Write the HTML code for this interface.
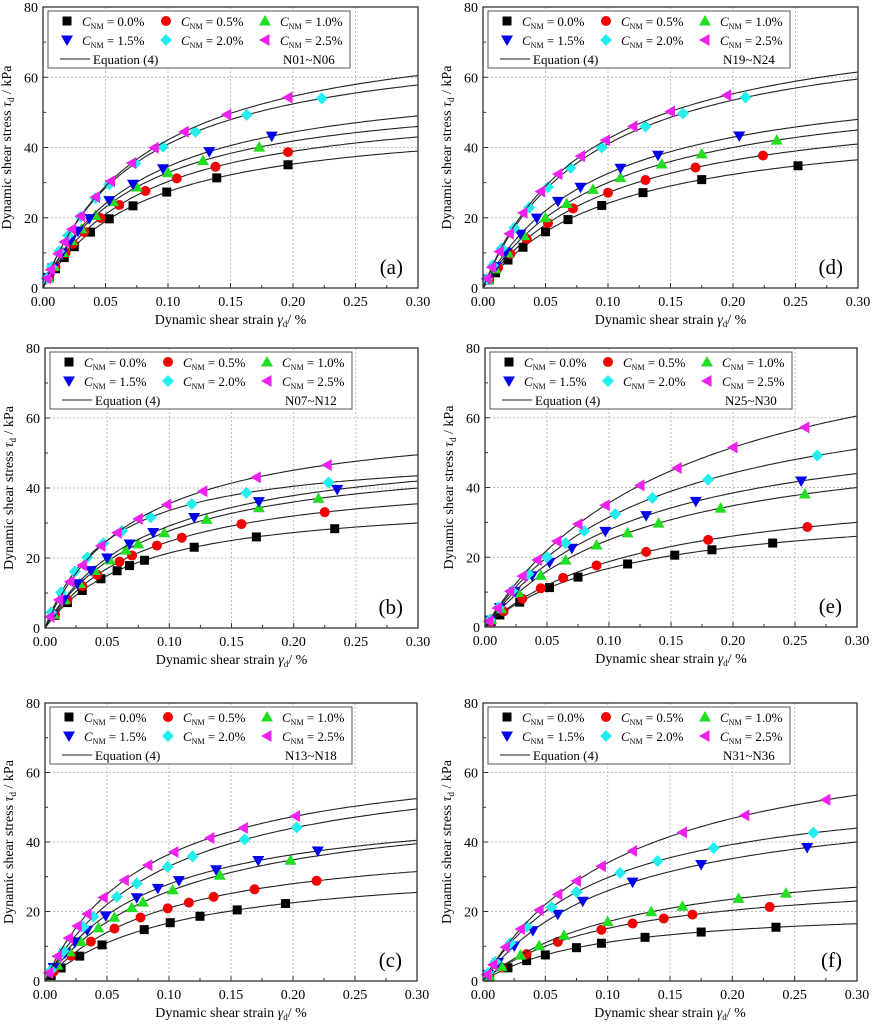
<!DOCTYPE html><html><head><meta charset="utf-8"><style>body{margin:0;background:#fff}svg{display:block;font-family:"Liberation Serif",serif}</style></head><body>
<svg id="s" width="872" height="1024" xmlns="http://www.w3.org/2000/svg"></svg>
<script>
const P=[
{x0:43,x1:418,y0:288,y1:7,lab:"(a)",tag:"N01~N06",c30:[39,43,46,49,57.8,60.5],c05:[19,21,23,24,28.5,29],g:[[.005,.01,.017,.025,.038,.053,.072,.099,.139,.196],[.005,.01,.018,.024,.033,.046,.061,.082,.107,.138,.196],[.004,.009,.016,.023,.031,.042,.056,.075,.1,.128,.173],[.004,.008,.015,.022,.028,.037,.053,.072,.096,.133,.183],[.003,.007,.013,.02,.03,.042,.053,.074,.096,.122,.163,.223],[.003,.006,.012,.017,.023,.03,.042,.054,.071,.089,.113,.147,.196]]},
{x0:483,x1:858,y0:288,y1:7,lab:"(d)",tag:"N19~N24",c30:[36.5,41,45,48,59.5,61.5],c05:[16,18,20,22,28,29],g:[[.005,.01,.02,.032,.05,.068,.095,.128,.175,.252],[.005,.012,.022,.035,.052,.072,.1,.13,.17,.224],[.004,.01,.02,.033,.05,.067,.088,.11,.143,.175,.235],[.004,.01,.018,.03,.043,.06,.078,.11,.14,.205],[.003,.008,.015,.025,.037,.052,.07,.095,.13,.16,.21],[.003,.007,.013,.021,.032,.046,.06,.078,.098,.12,.15,.195]]},
{x0:45,x1:418,y0:628,y1:348,lab:"(b)",tag:"N07~N12",c30:[30,35.5,40,42,43.5,49.5],c05:[15,17,19,20,25,25],g:[[.008,.018,.03,.045,.058,.068,.08,.12,.17,.233],[.008,.018,.03,.042,.06,.07,.09,.11,.158,.225],[.007,.016,.028,.04,.052,.065,.075,.096,.13,.172,.22],[.006,.015,.026,.037,.05,.068,.087,.12,.172,.235],[.005,.013,.024,.034,.047,.062,.085,.118,.162,.228],[.004,.011,.02,.03,.045,.058,.075,.098,.127,.17,.227]]},
{x0:485,x1:857,y0:627,y1:348,lab:"(e)",tag:"N25~N30",c30:[26,30,40,44,51,60.5],c05:[11,12,16,18,20,22],g:[[.005,.012,.028,.052,.075,.115,.153,.183,.232],[.005,.015,.03,.045,.063,.09,.13,.18,.26],[.005,.013,.027,.045,.065,.09,.115,.14,.19,.258],[.004,.012,.024,.038,.052,.07,.097,.13,.17,.255],[.004,.011,.022,.035,.05,.065,.08,.105,.135,.18,.268],[.003,.01,.02,.03,.042,.058,.075,.097,.125,.155,.2,.258]]},
{x0:45,x1:417,y0:981,y1:703,lab:"(c)",tag:"N13~N18",c30:[25.5,31.5,39.5,40.5,49.5,52.5],c05:[11,14,17,19,22,25],g:[[.005,.013,.028,.046,.08,.101,.125,.155,.194],[.007,.021,.037,.056,.077,.099,.116,.136,.169,.219],[.01,.02,.029,.043,.056,.07,.079,.103,.141,.198],[.007,.016,.024,.034,.049,.074,.091,.108,.138,.172,.22],[.005,.015,.031,.039,.058,.074,.099,.119,.161,.203],[.003,.01,.019,.026,.034,.047,.064,.083,.104,.133,.16,.202]]},
{x0:483,x1:857,y0:981,y1:703,lab:"(f)",tag:"N31~N36",c30:[16.5,23,27,40,44,53.5],c05:[7.5,10,11,17,20,22],g:[[.005,.02,.035,.05,.075,.095,.13,.175,.235],[.005,.015,.035,.06,.095,.12,.145,.168,.23],[.005,.015,.03,.045,.065,.1,.135,.16,.205,.243],[.004,.012,.025,.04,.06,.08,.12,.175,.26],[.004,.01,.022,.035,.055,.075,.11,.14,.185,.265],[.003,.008,.018,.03,.045,.06,.075,.095,.12,.16,.21,.275]]}
];
const col=["#000","#f00000","#22dd22","#0000ee","#22eeee","#ee22ee"];
let h="";
function mk(t,x,y){const c=col[t];
 if(t==0)return `<rect x="${x-4.5}" y="${y-4.5}" width="9" height="9" fill="${c}"/>`;
 if(t==1)return `<circle cx="${x}" cy="${y}" r="5" fill="${c}"/>`;
 if(t==2)return `<polygon points="${x},${y-6} ${x+6},${y+4.5} ${x-6},${y+4.5}" fill="${c}"/>`;
 if(t==3)return `<polygon points="${x},${y+6} ${x+6},${y-4.5} ${x-6},${y-4.5}" fill="${c}"/>`;
 if(t==4)return `<polygon points="${x},${y-6} ${x+6},${y} ${x},${y+6} ${x-6},${y}" fill="${c}"/>`;
 return `<polygon points="${x-6},${y} ${x+4.5},${y-6} ${x+4.5},${y+6}" fill="${c}"/>`;}
for(const p of P){
 const W=p.x1-p.x0,H=p.y0-p.y1,X=g=>p.x0+g/0.3*W,Y=v=>p.y0-v/80*H;
 for(let i=1;i<6;i++)h+=`<line x1="${X(i*.05)}" y1="${p.y1}" x2="${X(i*.05)}" y2="${p.y0}" stroke="#bbb" stroke-dasharray="2,2"/>`;
 for(let i=1;i<4;i++)h+=`<line x1="${p.x0}" y1="${Y(i*20)}" x2="${p.x1}" y2="${Y(i*20)}" stroke="#bbb" stroke-dasharray="2,2"/>`;
 for(let i=0;i<=12;i++){const x=X(i*.025);h+=`<line x1="${x}" y1="${p.y0}" x2="${x}" y2="${p.y0-(i%2?3:5)}" stroke="#333"/>`;}
 for(let i=0;i<=8;i++){const y=Y(i*10);h+=`<line x1="${p.x0}" y1="${y}" x2="${p.x0+(i%2?3:5)}" y2="${y}" stroke="#333"/>`;}
 for(let i=0;i<=6;i++)h+=`<text x="${X(i*.05)}" y="${p.y0+18}" font-size="14" text-anchor="middle">${(i*.05).toFixed(2)}</text>`;
 for(let i=0;i<=4;i++)h+=`<text x="${p.x0-5}" y="${Y(i*20)+5}" font-size="14" text-anchor="end">${i*20}</text>`;
 h+=`<text x="${(p.x0+p.x1)/2}" y="${p.y0+36}" font-size="14" text-anchor="middle">Dynamic shear strain <tspan font-style="italic">γ</tspan><tspan font-size="9" dy="3">d</tspan><tspan dy="-3">/ %</tspan></text>`;
 const cy=(p.y0+p.y1)/2,lx=p.x0-32;
 h+=`<text transform="translate(${lx},${cy}) rotate(-90)" font-size="14" text-anchor="middle">Dynamic shear stress <tspan font-style="italic">τ</tspan><tspan font-size="9" dy="3">d</tspan><tspan dy="-3"> / kPa</tspan></text>`;
 for(let k=0;k<6;k++){const t1=p.c05[k],t2=p.c30[k];const a=(1/t1-1/t2)/(1/.05-1/.3),b=1/t2-a/.3,f=g=>g/(a+b*g);
  let d="";for(let i=0;i<=120;i++){const g=i/120*.3;d+=(i?"L":"M")+X(g).toFixed(1)+","+Y(f(g)).toFixed(1);}
  h+=`<path d="${d}" fill="none" stroke="#222" stroke-width="1.1"/>`;
  const typ=[0,1,2,3,4,5][k];
  for(const g of p.g[typ]){h+=mk(typ,X(g),Y(f(g)));}}
 // legend
 const lx0=p.x0+5,ly0=p.y1+4;
 h+=`<rect x="${lx0}" y="${ly0}" width="302" height="57" fill="#fff" stroke="#555"/>`;
 const lb=["0.0","0.5","1.0","1.5","2.0","2.5"];
 for(let k=0;k<6;k++){const cx=lx0+19+(k%3)*99,ry=ly0+10+Math.floor(k/3)*19;
  h+=mk(k,cx,ry);h+=`<text x="${cx+15}" y="${ry+5}" font-size="13"><tspan font-style="italic">C</tspan><tspan font-size="8" dy="3">NM</tspan><tspan dy="-3"> = ${lb[k]}%</tspan></text>`;}
 h+=`<line x1="${lx0+12}" y1="${ly0+48}" x2="${lx0+42}" y2="${ly0+48}" stroke="#222"/><text x="${lx0+45}" y="${ly0+53}" font-size="13">Equation (4)</text><text x="${lx0+235}" y="${ly0+53}" font-size="13">${p.tag}</text>`;
 h+=`<text x="${p.x1-15}" y="${p.y0-14}" font-size="21" text-anchor="end">${p.lab}</text>`;
 h+=`<rect x="${p.x0}" y="${p.y1}" width="${W}" height="${H}" fill="none" stroke="#333" stroke-width="1.3"/>`;
}
document.getElementById("s").innerHTML=h;
</script></body></html>
